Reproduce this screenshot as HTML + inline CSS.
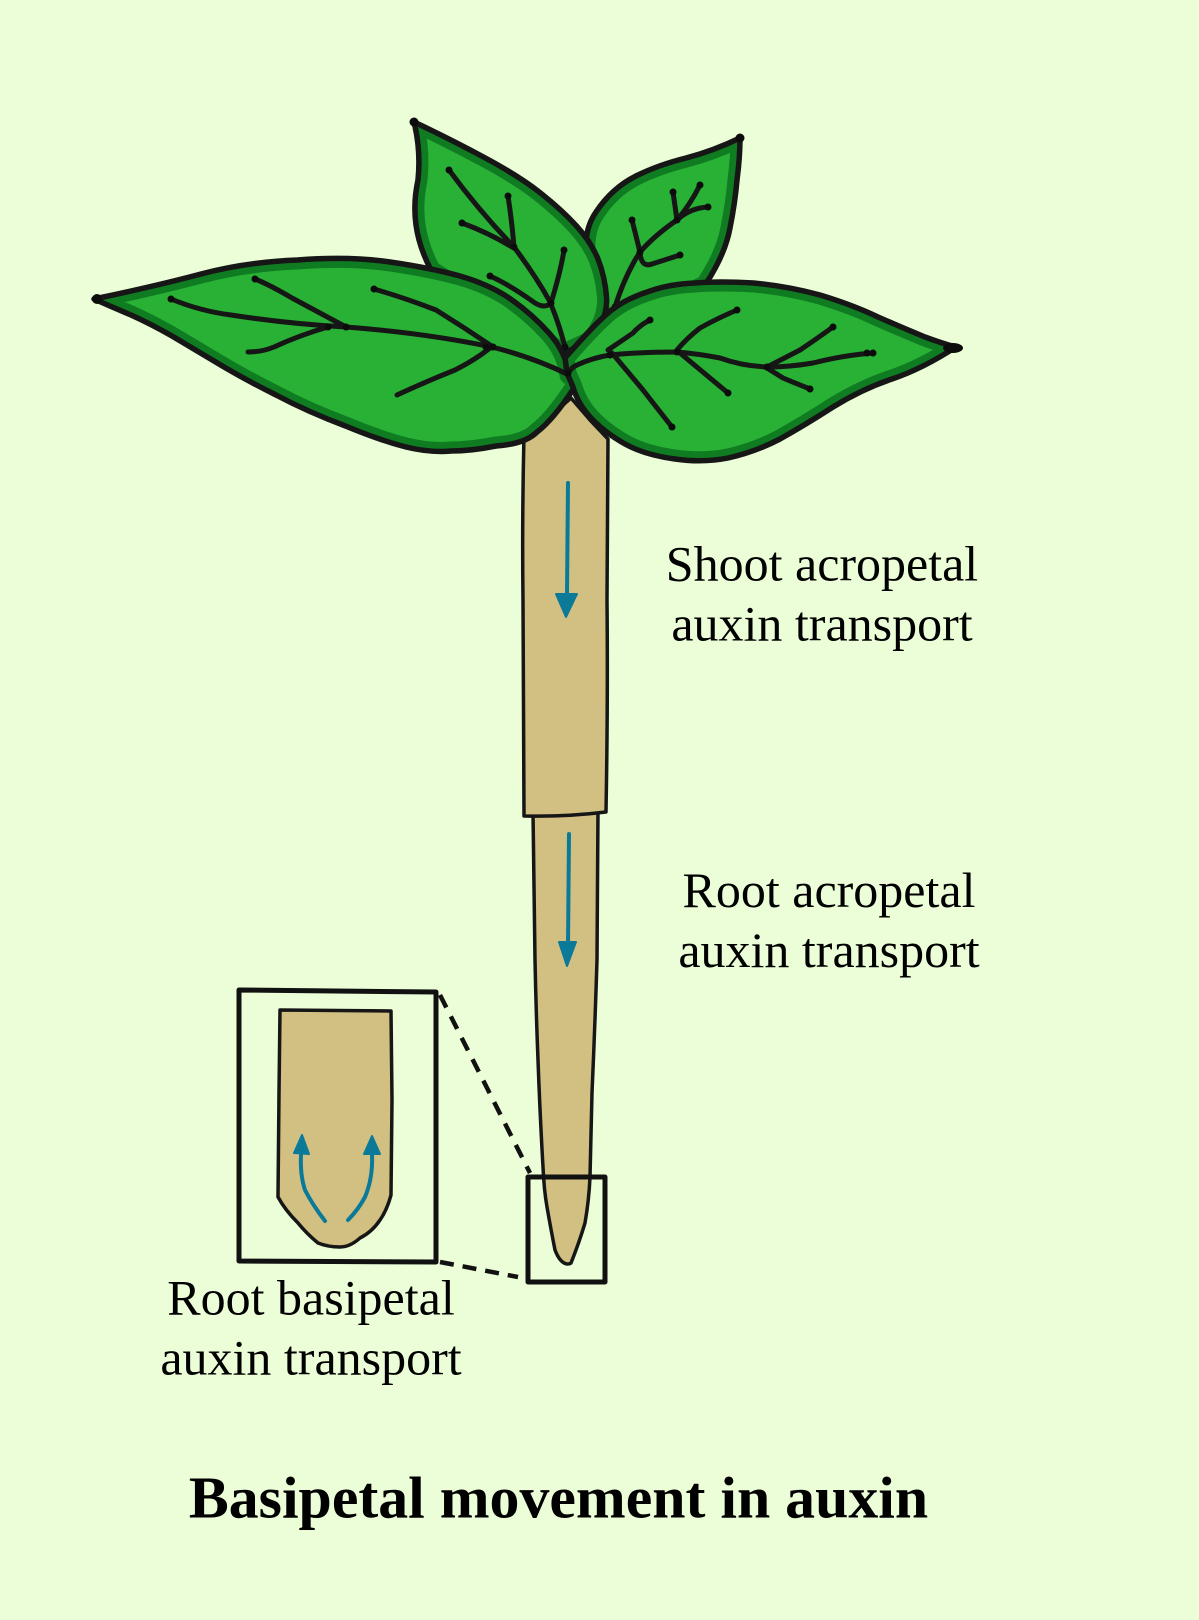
<!DOCTYPE html>
<html>
<head>
<meta charset="utf-8">
<style>
html,body{margin:0;padding:0;background:#ecfed8;}
svg{display:block;}
text{font-family:"Liberation Serif",serif;fill:#000;text-anchor:middle;}
.v{fill:none;stroke:#161616;stroke-width:5;stroke-linecap:round;stroke-linejoin:round;}
.d{fill:none;stroke:#0c0c0c;stroke-width:7;stroke-linecap:round;}
.o{fill:none;stroke:#161616;stroke-width:5.5;stroke-linejoin:round;}
.e{fill:none;stroke:#107c22;stroke-width:19;stroke-linejoin:round;}
.f{fill:#28b134;}
.a{fill:none;stroke:#0b7a99;stroke-width:4;stroke-linecap:round;}
.h{fill:#0b7a99;stroke:#0b7a99;stroke-width:2;stroke-linejoin:round;}
.s{fill:#d2bf82;stroke:#161616;stroke-width:3.5;stroke-linejoin:round;}
</style>
</head>
<body>
<svg width="1199" height="1620" viewBox="0 0 1199 1620" xmlns="http://www.w3.org/2000/svg">
<defs>
<path id="lL" d="M94 299 Q156 286 201 274 Q246 262 297.5 260 Q349 256 390 262 Q431 268 460 276 Q491 285 512 300 Q533 315 549 333 Q566 352 569 375 L576 380 L574 388 Q553 420 537 432 Q525 444 496 446 Q471 451 451 451 Q431 453 406 447 Q379 440 345.5 426 Q308 412 276 395 Q244 379 219 364 Q194 349 172 336 Q151 324 131 315 Q112 307 94 299 Z"/>
<path id="lT" d="M414 122 Q448 138 483.5 157 Q519 176 540.5 193 Q562 210 576.5 226 Q591 242 598 259 Q605 277 606.5 297 Q608 317 592 340 L564 353 L431 270 Q419 247 416 225 Q413 203 418 180 Q421 150 414 122 Z"/>
<path id="lR" d="M740 138 Q713 151 686 158 Q658 165 636 176 Q612 188 596 212 Q578 238 592 280 L606 330 L705 285 Q725 255 730 228 Q735 203 737 180 Q740 157 740 138 Z"/>
<path id="lE" d="M565 358 Q598 320 613 309 Q628 298 650 291 Q670 284 695 283 Q720 281 753.5 283 Q787 286 820 295 Q853 305 878 317 Q903 328 925 337 Q947 345 956 347 Q922 369 892 379 Q862 389 833 407 Q805 425 780 439 Q755 452 728 458 Q703 463 675 459 Q645 455 625 444 Q604 432 591 418 Q578 404 573 387 L567 373 Z"/>
<clipPath id="cL"><use href="#lL"/></clipPath>
<clipPath id="cT"><use href="#lT"/></clipPath>
<clipPath id="cR"><use href="#lR"/></clipPath>
<clipPath id="cE"><use href="#lE"/></clipPath>
</defs>
<rect width="1199" height="1620" fill="#ecfed8"/>

<!-- root -->
<path class="s" d="M533 812 Q534 890 535 960 Q536 1010 538 1060 Q540 1115 543 1167 Q544 1190 547 1207 Q551 1230 555 1250 Q560 1263 567 1264 Q570 1264 571 1263 Q579 1243 585 1223 Q589 1200 590 1177 Q591 1135 592 1093 Q595 1025 597 960 L598 810 Z"/>
<!-- shoot stem -->
<path class="s" d="M571 398 L540 425 L524 434 Q522 520 523 600 L524 816 Q565 817 606 812 Q608 700 607 600 L608 439 L590 420 Z"/>

<!-- top right leaf -->
<use href="#lR" class="f"/>
<use href="#lR" class="e" clip-path="url(#cR)"/>
<use href="#lR" class="o"/>
<path class="v" d="M615 307 Q625 275 640 252 Q655 235 677 220 Q690 205 700 185"/>
<path class="v" d="M673 192 L677 220 Q690 208 708 207"/>
<path class="v" d="M632 220 L640 252 Q641 268 652 264 L680 255"/>
<path class="d" d="M700 185h0M673 192h0M708 207h0M632 220h0M680 255h0M640 252h0M615 307h0M677 220h0"/>

<!-- top left leaf -->
<use href="#lT" class="f"/>
<use href="#lT" class="e" clip-path="url(#cT)"/>
<use href="#lT" class="o"/>
<path class="v" d="M449 170 Q480 212 514 247 Q535 275 549 300 Q558 320 565 347"/>
<path class="v" d="M508 196 Q512 222 514 247"/>
<path class="v" d="M462 223 Q489 233 512 247"/>
<path class="v" d="M564 250 Q561 270 551 303 Q545 309 535 303 Q510 285 490 276"/>
<path class="d" d="M449 170h0M508 196h0M462 223h0M564 250h0M490 276h0M514 247h0M551 303h0M565 347h0"/>

<!-- left leaf -->
<use href="#lL" class="f"/>
<use href="#lL" class="e" clip-path="url(#cL)"/>
<use href="#lL" class="o"/>
<path class="v" d="M171 299 Q200 311 231 315 Q290 324 346 327 Q425 333 492 347 Q535 358 569 375"/>
<path class="v" d="M255 279 Q270 285 292 298 L346 327"/>
<path class="v" d="M248 352 Q262 352 274 347 Q300 335 328 327"/>
<path class="v" d="M374 289 Q405 298 436 310 Q465 328 493 347"/>
<path class="v" d="M397 395 Q425 382 455 370 Q475 360 490 348"/>
<path class="d" d="M171 299h0M255 279h0M374 289h0M346 327h0M328 327h0M493 347h0M486 347h0"/>

<!-- right leaf -->
<use href="#lE" class="f"/>
<use href="#lE" class="e" clip-path="url(#cE)"/>
<use href="#lE" class="o"/>
<path class="v" d="M568 373 Q572 367 577 365 Q592 358 610 355 Q640 352 677 352 Q700 354 720 358 Q742 366 767 367 Q790 367 813 363 Q845 355 873 353"/>
<path class="v" d="M650 320 Q640 325 633 333 Q620 342 608 350"/>
<path class="v" d="M737 310 Q718 318 700 328 Q687 338 677 350"/>
<path class="v" d="M833 327 Q815 340 800 350 L767 367"/>
<path class="v" d="M810 389 Q795 383 783 378 L767 368"/>
<path class="v" d="M728 393 L680 353"/>
<path class="v" d="M672 427 Q657 408 643 390 L612 353"/>
<path class="d" d="M650 320h0M737 310h0M833 327h0M873 353h0M867 353h0M810 389h0M728 393h0M672 427h0M767 367h0M677 352h0M610 355h0M568 373h0"/>

<!-- leaf tips -->
<circle cx="97" cy="299" r="5" fill="#0c0c0c"/>
<circle cx="414" cy="122" r="4.5" fill="#0c0c0c"/>
<circle cx="740" cy="138" r="4.5" fill="#0c0c0c"/>
<ellipse cx="953" cy="348" rx="10" ry="5" fill="#0c0c0c"/>

<!-- stem arrows -->
<path class="a" d="M568 483 L567 594"/>
<path class="h" d="M566 617 L556 594 L577 594 Z"/>
<path class="a" d="M569 834 L568 945"/>
<path class="h" d="M567 966 L559 942 L576 942 Z"/>

<!-- inset -->
<path d="M239 990 L436 992 L436 1262 L239 1261 Z" fill="none" stroke="#111" stroke-width="5" stroke-linejoin="round"/>
<path class="s" d="M280 1010 L391 1011 L392 1100 L391 1195 Q387 1210 380 1220 Q372 1232 360 1238 Q350 1247 340 1247 Q328 1247 318 1243 Q307 1234 298 1223 Q285 1210 278 1197 L279 1093 Z"/>
<path class="a" d="M325 1221 Q312 1204 305 1190 Q300 1175 301 1155"/>
<path class="h" d="M302 1135 L294 1153 L309 1154 Z"/>
<path class="a" d="M348 1220 Q358 1210 365 1197 Q373 1178 372 1155"/>
<path class="h" d="M372 1136 L364 1154 L380 1154 Z"/>

<!-- connectors -->
<path d="M440 995 L530 1173" fill="none" stroke="#111" stroke-width="4.5" stroke-dasharray="14 10"/>
<path d="M440 1262 L518 1277" fill="none" stroke="#111" stroke-width="4.5" stroke-dasharray="14 9"/>
<path d="M528 1177 L605 1177 L605 1282 L528 1282 Z" fill="none" stroke="#111" stroke-width="5" stroke-linejoin="round"/>

<!-- labels -->
<text x="822" y="580.5" font-size="50">Shoot acropetal</text>
<text x="822" y="640.5" font-size="50">auxin transport</text>
<text x="829" y="907" font-size="50">Root acropetal</text>
<text x="829" y="967" font-size="50">auxin transport</text>
<text x="311" y="1314.5" font-size="50">Root basipetal</text>
<text x="311" y="1374.5" font-size="50">auxin transport</text>
<text x="558.5" y="1517.5" font-size="59.8" font-weight="700">Basipetal movement in auxin</text>
</svg>
</body>
</html>
